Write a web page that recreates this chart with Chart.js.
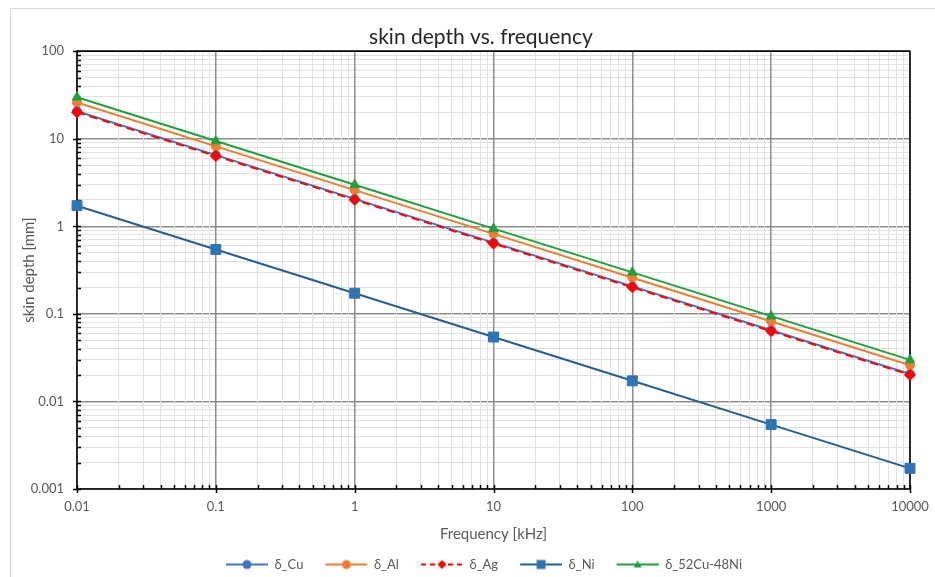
<!DOCTYPE html>
<html>
<head>
<meta charset="utf-8">
<script src="https://cdn.jsdelivr.net/npm/chart.js@4.4.1/dist/chart.umd.min.js"></script>
<style>
  html, body { margin: 0; padding: 0; background: #fff; }
  #wrap { position: relative; width: 935px; height: 577px; }
  #frame { position: absolute; left: 10px; top: 8px; right: 0; bottom: 0;
           border-left: 1px solid #d9d9d9; border-top: 1px solid #d9d9d9; pointer-events: none; }
</style>
</head>
<body>
<div id="wrap">
  <canvas id="skinChart" width="935" height="577"></canvas>
  <div id="frame"></div>
</div>
<script>
// --- data ---
const freqKHz = [0.01, 0.1, 1, 10, 100, 1000, 10000];
const depthCu = [20.6, 6.51, 2.06, 0.651, 0.206, 0.0651, 0.0206];
const depthAl = [25.9, 8.19, 2.59, 0.819, 0.259, 0.0819, 0.0259];
const depthAg = [20.1, 6.35, 2.01, 0.635, 0.201, 0.0635, 0.0201];
const depthNi = [1.72, 0.544, 0.172, 0.0544, 0.0172, 0.00544, 0.00172];
const depthCuNi = [29.8, 9.42, 2.98, 0.942, 0.298, 0.0942, 0.0298];

const xTickValues = [0.01, 0.1, 1, 10, 100, 1000, 10000];
const xTickLabels = ['0.01', '0.1', '1', '10', '100', '1000', '10000'];
const yTickValues = [0.001, 0.01, 0.1, 1, 10, 100];
const yTickLabels = ['0.001', '0.01', '0.1', '1', '10', '100'];

const FONT = 'Lato, "Noto Sans", sans-serif';
const TEXT = '#595959';
const MAJOR_GRID = '#8c8c8c';
const MINOR_GRID = '#e1e1e1';

// Helper: make [1..9] x 10^n ticks between min and max
function logTicks(min, max) {
    const out = [];
    for (let d = Math.round(Math.log10(min)); d < Math.round(Math.log10(max)); d++) {
        for (let m = 1; m < 10; m++) out.push({ value: +(m * Math.pow(10, d)).toPrecision(3) });
    }
    out.push({ value: max });
    return out;
}

function isMajor(v) {
    const l = Math.log10(v);
    return Math.abs(l - Math.round(l)) < 1e-6;
}

function labelFor(v, values, labels) {
    const i = values.findIndex(t => Math.abs(t - v) / t < 1e-6);
    return i >= 0 ? labels[i] : '';
}

const pairs = (ys) => freqKHz.map((x, i) => ({ x: x, y: ys[i] }));

const series = [
    { label: 'δ_Cu', data: pairs(depthCu), color: '#4472C4', line: '#4472C4', style: 'circle', radius: 4.5, dash: [], order: 5 },
    { label: 'δ_Al', data: pairs(depthAl), color: '#ED7D31', line: '#ED7D31', style: 'circle', radius: 4.5, dash: [], order: 4 },
    { label: 'δ_Ag', data: pairs(depthAg), color: '#FF0000', line: '#FF0000', style: 'rectRot', radius: 5.5, dash: [8, 5], order: 3 },
    { label: 'δ_Ni', data: pairs(depthNi), color: '#2E75B6', line: '#255E91', style: 'rect', radius: 7, dash: [], order: 2 },
    { label: 'δ_52Cu-48Ni', data: pairs(depthCuNi), color: '#1FA03C', line: '#1FA03C', style: 'triangle', radius: 5.5, dash: [], order: 1 }
];

// legend icon: short line with the marker in the middle (Excel style)
function legendIcon(s) {
    const c = document.createElement('canvas');
    c.width = 56; c.height = 14;
    const ctx = c.getContext('2d');
    ctx.strokeStyle = s.line;
    ctx.lineWidth = 2;
    ctx.setLineDash(s.dash.length ? [5, 4] : []);
    ctx.beginPath(); ctx.moveTo(14, 7); ctx.lineTo(56, 7); ctx.stroke();
    ctx.setLineDash([]);
    ctx.fillStyle = s.color;
    const cx = 35, cy = 7;
    ctx.beginPath();
    if (s.style === 'circle') ctx.arc(cx, cy, 4.5, 0, Math.PI * 2);
    else if (s.style === 'rect') ctx.rect(cx - 4.5, cy - 4.5, 9, 9);
    else if (s.style === 'rectRot') { ctx.moveTo(cx, cy - 4.5); ctx.lineTo(cx + 4.5, cy); ctx.lineTo(cx, cy + 4.5); ctx.lineTo(cx - 4.5, cy); }
    else { ctx.moveTo(cx, cy - 4); ctx.lineTo(cx + 4, cy + 3); ctx.lineTo(cx - 4, cy + 3); }
    ctx.fill();
    return c;
}

// plot frame + inside tick marks (Excel look), and nudges for title/legend
const framePlugin = {
    id: 'framePlugin',
    afterLayout(chart) {
        if (chart.legend) {
            chart.legend.left += 22; chart.legend.right += 22;
            chart.legend.top += 4; chart.legend.bottom += 4;
        }
        if (chart.titleBlock) {
            chart.titleBlock.left += 26; chart.titleBlock.right += 26;
        }
    },
    beforeDatasetsDraw(chart) {
        const { ctx, chartArea: a, scales } = chart;
        ctx.save();
        ctx.strokeStyle = '#000';
        ctx.lineWidth = 1.5;
        ctx.strokeRect(a.left, a.top, a.right - a.left, a.bottom - a.top);
        ctx.beginPath();
        scales.x.ticks.forEach(t => {
            const px = Math.round(scales.x.getPixelForValue(t.value)) + 0.5;
            if (isMajor(t.value)) { ctx.moveTo(px, a.bottom - 4); ctx.lineTo(px, a.bottom + 4); }
            else { ctx.moveTo(px, a.bottom - 4); ctx.lineTo(px, a.bottom); }
        });
        scales.y.ticks.forEach(t => {
            const py = Math.round(scales.y.getPixelForValue(t.value)) + 0.5;
            if (isMajor(t.value)) { ctx.moveTo(a.left - 4, py); ctx.lineTo(a.left + 4, py); }
            else { ctx.moveTo(a.left, py); ctx.lineTo(a.left + 4, py); }
        });
        ctx.stroke();
        ctx.restore();
    }
};

const gridColor = ctx => (ctx.tick && isMajor(ctx.tick.value)) ? MAJOR_GRID : MINOR_GRID;
const gridWidth = ctx => (ctx.tick && isMajor(ctx.tick.value)) ? 1.5 : 1;

new Chart(document.getElementById('skinChart'), {
    type: 'line',
    data: {
        datasets: series.map(s => ({
            label: s.label,
            data: s.data,
            borderColor: s.line,
            backgroundColor: s.color,
            borderWidth: 2,
            borderDash: s.dash,
            pointStyle: s.style,
            pointRadius: s.radius,
            pointBackgroundColor: s.color,
            pointBorderColor: s.color,
            pointBorderWidth: 1,
            tension: 0,
            fill: false,
            clip: false,
            order: s.order
        }))
    },
    options: {
        responsive: false,
        animation: false,
        layout: { padding: { left: 0, right: 25, top: 0, bottom: 0 } },
        plugins: {
            title: {
                display: true,
                text: 'skin depth vs. frequency',
                color: '#262626',
                font: { family: FONT, size: 21, weight: 'normal' },
                padding: { top: 25, bottom: 1 }
            },
            legend: {
                position: 'bottom',
                labels: {
                    usePointStyle: true,
                    pointStyleWidth: 56,
                    padding: 8,
                    color: TEXT,
                    font: { family: FONT, size: 13 },
                    sort: (a, b) => a.datasetIndex - b.datasetIndex,
                    generateLabels: (chart) => {
                        const items = Chart.defaults.plugins.legend.labels.generateLabels(chart);
                        return items.map(it => Object.assign(it, { pointStyle: legendIcon(series[it.datasetIndex]) }));
                    }
                }
            },
            tooltip: { enabled: false }
        },
        scales: {
            x: {
                type: 'logarithmic',
                min: 0.01,
                max: 10000,
                afterBuildTicks: (scale) => { scale.ticks = logTicks(0.01, 10000); },
                afterFit: (scale) => { scale.height = 57; scale.paddingLeft = 0; scale.paddingRight = 0; },
                ticks: {
                    autoSkip: false, maxRotation: 0, padding: 10,
                    color: TEXT, font: { family: FONT, size: 13 },
                    callback: (v) => labelFor(v, xTickValues, xTickLabels)
                },
                grid: { color: gridColor, lineWidth: gridWidth, drawTicks: false, z: -1 },
                border: { display: false },
                title: {
                    display: true, text: 'Frequency [kHz]', color: TEXT,
                    font: { family: FONT, size: 15 }, padding: { top: 0, bottom: 3 }
                }
            },
            y: {
                type: 'logarithmic',
                min: 0.001,
                max: 100,
                afterBuildTicks: (scale) => { scale.ticks = logTicks(0.001, 100); },
                afterFit: (scale) => { scale.width = 77; },
                ticks: {
                    autoSkip: false, padding: 13,
                    color: TEXT, font: { family: FONT, size: 13 },
                    callback: (v) => labelFor(v, yTickValues, yTickLabels)
                },
                grid: { color: gridColor, lineWidth: gridWidth, drawTicks: false, z: -2 },
                border: { display: false },
                title: {
                    display: true, text: 'skin depth [mm]', color: TEXT,
                    font: { family: FONT, size: 15 }, padding: { top: 20, bottom: 0 }
                }
            }
        }
    },
    plugins: [framePlugin]
});
</script>
</body>
</html>
